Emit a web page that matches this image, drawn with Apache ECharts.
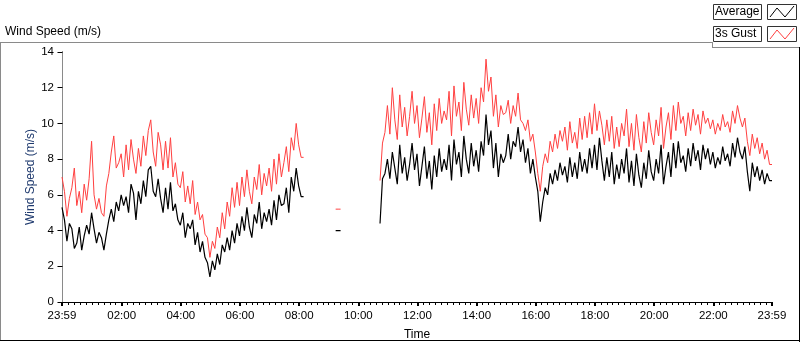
<!DOCTYPE html>
<html><head><meta charset="utf-8">
<script src="https://cdn.jsdelivr.net/npm/echarts@6/dist/echarts.min.js"></script>
<style>html,body{margin:0;padding:0;background:#fff}#c{width:800px;height:342px}</style>
</head><body><div id="c"></div>
<script>
// Time: minutes from midnight; first sample at 23:59 of the previous day (-1), 5-minute steps
const startMinute = -1;
const stepMinutes = 5;

const averageSpeed = [
  5.3,4.6,3.4,4.4,4.1,3.0,3.3,4.2,2.9,3.7,4.3,3.8,
  5.0,4.1,3.3,3.9,3.6,2.9,3.8,4.6,5.2,4.5,5.6,5.1,
  6.0,5.4,5.9,5.0,6.6,6.1,4.6,6.2,5.5,6.8,5.9,7.4,
  7.6,6.2,5.9,6.9,5.8,5.0,6.4,5.2,6.7,5.1,5.5,4.6,
  4.3,5.0,3.6,4.4,4.1,4.6,3.2,3.9,2.8,3.4,2.5,2.2,
  1.4,2.3,1.8,2.7,2.1,3.2,2.8,3.6,2.9,4.0,3.3,4.4,
  3.7,4.8,4.0,5.3,4.2,3.6,4.9,4.4,5.6,4.1,5.0,4.5,
  5.2,4.3,5.7,4.6,6.0,5.4,5.5,6.4,5.0,7.0,6.2,7.5,
  6.5,5.9,5.9,null,null,null,null,null,null,null,null,null,
  null,null,null,4.0,4.0,4.0,null,null,null,null,null,null,
  null,null,null,null,null,null,null,null,null,4.4,6.9,7.2,
  8.0,6.9,8.4,7.5,6.6,8.8,7.2,8.1,6.8,7.7,8.9,7.4,
  8.3,6.5,7.6,8.7,6.9,7.9,6.3,8.2,7.0,8.6,7.3,8.0,
  7.4,8.8,6.8,9.1,7.7,8.4,7.0,9.3,8.0,7.2,8.9,7.6,
  8.5,7.3,9.0,8.2,10.5,8.8,9.6,7.5,8.9,7.0,8.3,7.8,
  8.2,9.4,8.0,9.0,8.7,9.8,8.4,9.1,7.8,8.6,7.2,8.0,
  7.0,6.2,4.5,5.6,6.4,6.0,7.2,6.6,7.4,6.8,7.8,7.1,
  7.6,6.7,8.1,7.0,7.8,6.9,8.4,7.3,8.0,7.2,8.6,7.5,
  8.8,7.4,9.2,7.9,6.8,8.1,7.0,8.4,6.6,7.7,6.9,8.0,
  7.2,8.6,6.7,7.9,6.5,8.3,7.1,6.4,7.8,6.9,8.5,7.3,
  6.8,8.0,7.2,8.8,6.6,7.6,8.4,7.0,8.9,7.5,9.0,7.8,
  8.2,7.3,8.6,7.6,8.9,7.9,8.5,7.4,8.8,8.0,8.6,7.7,
  8.4,7.5,8.1,7.7,8.7,7.9,8.3,7.6,8.9,8.1,9.2,8.4,
  8.0,8.7,7.3,6.2,7.8,7.0,7.6,6.8,7.4,6.6,7.2,6.8,
  6.8
];

const gustSpeed = [
  7.0,6.2,4.8,5.8,6.4,7.5,5.4,6.2,5.0,6.6,5.7,6.9,
  9.0,6.0,5.2,5.8,5.0,4.8,6.5,7.2,8.4,9.3,7.5,7.8,
  8.3,7.0,8.8,7.4,9.1,8.0,7.2,8.6,7.6,9.3,8.2,9.6,
  10.2,8.4,7.6,9.5,8.8,7.4,9.0,7.5,9.2,7.0,7.8,6.6,
  6.4,7.3,5.6,6.5,5.5,6.8,4.9,5.6,4.6,4.9,3.8,3.6,
  2.5,3.4,3.0,4.2,3.6,5.0,4.1,5.6,4.8,6.4,5.3,6.7,
  5.4,7.0,5.9,7.4,6.2,5.5,7.0,6.3,7.7,6.0,7.2,6.5,
  7.5,6.2,8.0,6.6,8.3,7.0,7.8,8.7,7.3,9.2,8.5,10.0,
  8.8,8.1,8.1,null,null,null,null,null,null,null,null,null,
  null,null,null,5.2,5.2,5.2,null,null,null,null,null,null,
  null,null,null,null,null,null,null,null,null,6.8,8.9,9.5,
  11.0,9.4,12.0,10.2,9.1,11.6,9.8,10.9,9.3,10.4,11.8,10.0,
  11.0,9.2,10.3,11.5,9.5,10.6,8.8,11.1,9.6,11.4,10.0,10.7,
  10.2,11.8,9.3,12.1,10.4,11.2,9.6,12.3,10.8,9.9,11.6,10.3,
  11.4,10.0,12.0,11.2,13.6,11.8,12.6,10.4,11.6,9.8,11.0,10.5,
  10.6,11.3,10.0,11.0,10.4,11.7,10.2,10.0,9.6,10.2,9.0,9.4,
  8.4,7.2,6.2,7.6,8.3,7.8,9.0,8.4,9.4,8.6,9.6,9.0,
  9.8,8.5,10.1,8.9,9.5,8.6,10.3,9.1,10.4,9.2,10.6,9.4,
  11.1,9.6,10.7,9.9,8.8,10.2,9.0,10.4,8.6,9.8,8.7,10.0,
  9.3,10.8,8.7,10.0,8.5,10.5,9.2,8.4,10.1,8.9,10.6,9.5,
  8.8,10.2,9.3,10.9,8.6,9.8,10.6,9.1,11.0,9.6,11.2,10.0,
  10.4,9.3,10.6,9.6,10.8,9.9,10.5,9.4,10.7,10.0,10.3,9.7,
  10.2,9.4,10.0,9.6,10.5,9.8,10.1,9.5,10.7,10.0,11.0,10.3,
  9.8,10.3,9.0,8.2,9.4,8.6,9.2,8.3,8.9,8.0,8.5,7.7,
  7.7
];

const majorTickMinutes = [-1,120,240,360,480,600,720,840,960,1080,1200,1320,1439];
const majorTickLabels = ['23:59','02:00','04:00','06:00','08:00','10:00','12:00','14:00','16:00','18:00','20:00','22:00','23:59'];
const minorTickMinutes = [];
for (let m = 12; m < 1440; m += 12) if (m % 120 !== 0) minorTickMinutes.push(m);

const seriesNames = ['Average', '3s Gust'];
const seriesColors = ['#000000', '#ff4040'];

const toPairs = arr => arr.map((v, i) => [startMinute + i * stepMinutes, v]);

const FONT = 'Liberation Sans, Arial, sans-serif';
const chart = echarts.init(document.getElementById('c'));

function legendItem(y, name, color) {
  return [
    { type: 'rect', shape: { x: 713.5, y: y + 0.5, width: 48, height: 15 }, style: { fill: '#fff', stroke: '#333', lineWidth: 1 } },
    { type: 'text', left: 715, top: y + 2, style: { text: name, font: '12px ' + FONT, fill: '#000' } },
    { type: 'rect', shape: { x: 767.5, y: y + 0.5, width: 29, height: 15 }, style: { fill: '#fff', stroke: '#333', lineWidth: 1 } },
    { type: 'polyline', shape: { points: [[770, y + 13], [777, y + 4], [785, y + 13], [794, y + 2]] }, style: { stroke: color, lineWidth: 1, fill: null } }
  ];
}

chart.setOption({
  animation: false,
  backgroundColor: '#fff',
  textStyle: { fontFamily: FONT },
  grid: { left: 62, top: 52, width: 710, height: 250, show: false, containLabel: false, outerBoundsMode: 'none' },
  graphic: [
    { type: 'line', shape: { x1: 0.5, y1: 42, x2: 0.5, y2: 341 }, style: { stroke: '#8a8a8a', lineWidth: 1 } },
    { type: 'line', shape: { x1: 0, y1: 42.5, x2: 712, y2: 42.5 }, style: { stroke: '#8a8a8a', lineWidth: 1 } },
    { type: 'line', shape: { x1: 712.5, y1: 42, x2: 712.5, y2: 48 }, style: { stroke: '#8a8a8a', lineWidth: 1 } },
    { type: 'line', shape: { x1: 712, y1: 47.5, x2: 800, y2: 47.5 }, style: { stroke: '#8a8a8a', lineWidth: 1 } },
    { type: 'line', shape: { x1: 799.5, y1: 47, x2: 799.5, y2: 342 }, style: { stroke: '#000', lineWidth: 1 } },
    { type: 'line', shape: { x1: 0, y1: 340.5, x2: 800, y2: 340.5 }, style: { stroke: '#000', lineWidth: 1 } },
    { type: 'text', left: 5, top: 26, style: { text: 'Wind Speed (m/s)', font: '12px ' + FONT, fill: '#000' } },
    ...legendItem(4, seriesNames[0], seriesColors[0]),
    ...legendItem(26, seriesNames[1], seriesColors[1])
  ],
  xAxis: [
    {
      type: 'value', min: -1, max: 1439, position: 'bottom',
      name: 'Time', nameLocation: 'middle', nameGap: 27, nameMoveOverlap: false,
      nameTextStyle: { fontSize: 12, color: '#000', fontFamily: FONT },
      axisLine: { show: true, lineStyle: { color: '#8a8a8a', width: 1 } },
      axisTick: { show: true, customValues: majorTickMinutes, length: 4, lineStyle: { color: '#000', width: 2 } },
      axisLabel: {
        customValues: majorTickMinutes, showMinLabel: true, showMaxLabel: true,
        margin: 8, fontSize: 11.5, color: '#000', fontFamily: FONT,
        formatter: v => majorTickLabels[majorTickMinutes.indexOf(v)] || ''
      },
      splitLine: { show: false }
    },
    {
      type: 'value', min: -1, max: 1439, position: 'top',
      axisLine: { show: true, lineStyle: { color: '#000', width: 1 } },
      axisTick: { show: false }, axisLabel: { show: false }, splitLine: { show: false }
    },
    {
      type: 'value', min: -1, max: 1439, position: 'bottom',
      axisLine: { show: false },
      axisTick: { show: true, customValues: minorTickMinutes, length: 3, lineStyle: { color: '#000', width: 1 } },
      axisLabel: { show: false }, splitLine: { show: false }
    }
  ],
  yAxis: [
    {
      type: 'value', min: 0, max: 14, interval: 2, position: 'left',
      name: 'Wind Speed (m/s)', nameLocation: 'middle', nameGap: 25, nameMoveOverlap: false,
      nameTextStyle: { fontSize: 12, color: '#1f3a6e', fontFamily: FONT },
      axisLine: { show: true, lineStyle: { color: '#000', width: 1 } },
      axisTick: { show: true, length: 5, lineStyle: { color: '#000' } },
      axisLabel: { margin: 8, fontSize: 11.5, color: '#000', fontFamily: FONT },
      splitLine: { show: false }
    },
    {
      type: 'value', min: 0, max: 14, position: 'right',
      axisLine: { show: true, lineStyle: { color: '#8a8a8a', width: 1 } },
      axisTick: { show: false }, axisLabel: { show: false }, splitLine: { show: false }
    }
  ],
  series: [
    {
      name: seriesNames[1], type: 'line', xAxisIndex: 0, yAxisIndex: 0,
      data: toPairs(gustSpeed), showSymbol: false, connectNulls: false,
      lineStyle: { color: seriesColors[1], width: 1 }, itemStyle: { color: seriesColors[1] }
    },
    {
      name: seriesNames[0], type: 'line', xAxisIndex: 0, yAxisIndex: 0,
      data: toPairs(averageSpeed), showSymbol: false, connectNulls: false,
      lineStyle: { color: seriesColors[0], width: 1.2 }, itemStyle: { color: seriesColors[0] }
    }
  ]
});
</script>
</body></html>
